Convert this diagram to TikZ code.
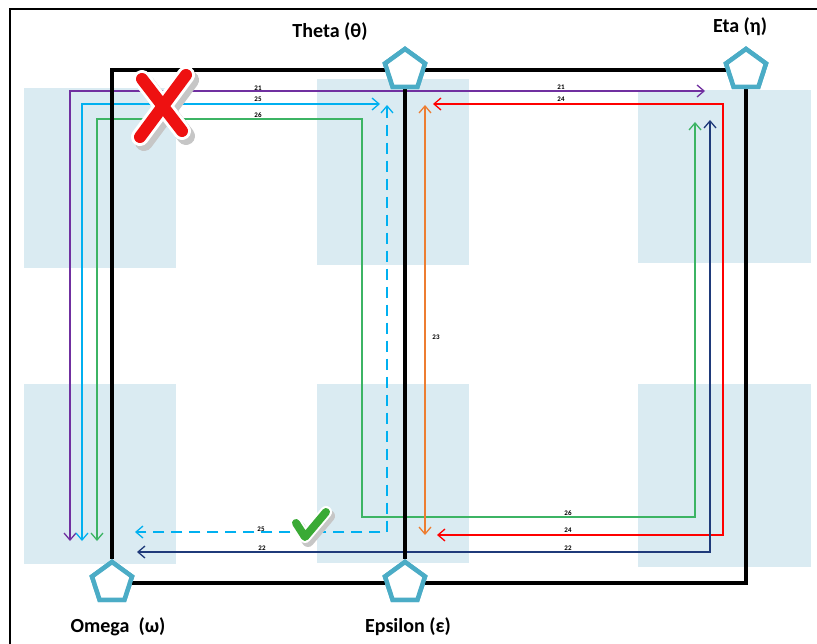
\documentclass[tikz,border=0pt]{standalone}
\usepackage{fontspec}
\setmainfont{Carlito}
\usetikzlibrary{shapes.geometric,arrows.meta,positioning}

\definecolor{zoneblue}{HTML}{DAEBF2}
\definecolor{siteblue}{HTML}{4BACC6}
\definecolor{route21}{HTML}{7030A0}
\definecolor{route25}{HTML}{00B0F0}
\definecolor{route26}{HTML}{3CB464}
\definecolor{route24}{HTML}{FF0000}
\definecolor{route23}{HTML}{ED7D31}
\definecolor{route22}{HTML}{1F3A7A}
\definecolor{markred}{HTML}{EE1111}
\definecolor{markgreen}{HTML}{3AAA35}

\begin{document}
\begin{tikzpicture}[x=1pt, y=-1pt,
    site/.style={regular polygon, regular polygon sides=5, draw=siteblue, fill=white, line width=4.5pt, minimum size=42pt, inner sep=0pt},
    link/.style={line width=3.5pt, black},
    route/.style={line width=1.3pt, {Straight Barb[length=7pt,width=12pt]}-{Straight Barb[length=7pt,width=12pt]}},
    num/.style={font=\fontsize{7}{7}\selectfont\bfseries, inner sep=0.5pt},
    sitelabel/.style={font=\fontsize{20}{23}\selectfont\bfseries},
    zone/.style={fill=zoneblue}
]
\useasboundingbox (0,0) rectangle (817,644);

% frame
\draw[line width=1.3pt] (10,644) -- (10,9) -- (817,9);

% shaded zones
\fill[zone] (24,88) rectangle (176,268);
\fill[zone] (317,79) rectangle (469,265);
\fill[zone] (638,90) rectangle (811,263);
\fill[zone] (24,384) rectangle (176,564);
\fill[zone] (317,384) rectangle (469,563);
\fill[zone] (638,384) rectangle (811,567);

% route end points
\coordinate (r21s) at (70,541);
\coordinate (r21e) at (705,91);
\coordinate (r25s) at (82,541);
\coordinate (r25e) at (380,104);
\coordinate (r25b) at (387,105);
\coordinate (r25c) at (135,532);
\coordinate (r26s) at (97,541);
\coordinate (r26e) at (695,122);
\coordinate (r24s) at (433,104);
\coordinate (r24e) at (437,535);
\coordinate (r23s) at (425,105);
\coordinate (r23e) at (425,535);
\coordinate (r22s) at (710,120);
\coordinate (r22e) at (137,552);

% routes
\draw[route, route21] (r21s) |- (r21e);
\draw[route, route25] (r25s) |- (r25e);
\draw[route, route25, dash pattern=on 11pt off 7pt] (r25b) |- (r25c);
\draw[route, route26] (r26s) |- (362,119) |- (695,517) -- (r26e);
\draw[route, route24] (r24s) -| (723,535) -- (r24e);
\draw[route, route23] (r23s) -- (r23e);
\draw[route, route22] (r22s) |- (r22e);

% route numbers
\node[num] (n21a) at (258,88) {21};
\node[num] (n21b) at (561,87) {21};
\node[num] (n25a) at (258,99) {25};
\node[num] (n25b) at (261,529) {25};
\node[num] (n26a) at (258,115) {26};
\node[num] (n26b) at (568,513) {26};
\node[num] (n24a) at (561,99) {24};
\node[num] (n24b) at (568,530) {24};
\node[num] (n22a) at (262,548) {22};
\node[num] (n22b) at (568,548) {22};
\node[num] (n23) at (436,337) {23};

% sites
\node[site] (theta) at (405,70) {};
\node[site] (eta) at (746,70) {};
\node[site] (omega) at (112,583) {};
\node[site] (epsilon) at (405,583) {};

% links
\draw[link] (omega) |- (theta);
\draw[link] (theta) -- (eta);
\draw[link] (theta) -- (epsilon);
\draw[link] (omega) -- (epsilon);
\draw[link] (eta) |- (epsilon);

\node[site] at (theta) {};
\node[site] at (eta) {};
\node[site] at (omega) {};
\node[site] at (epsilon) {};

% site labels
\node[sitelabel] (thetalbl) at (330,32) {Theta (θ)};
\node[sitelabel] (etalbl) at (740,27) {Eta (η)};
\node[sitelabel] (omegalbl) at (118,627) {Omega\ \ (ω)};
\node[sitelabel] (epsilonlbl) at (408,627) {Epsilon (ε)};

% cross mark
\draw[line width=18pt, gray!45, line cap=round] (146,84) -- (186,136) (190,80) -- (144,142);
\draw[line width=18pt, white, line cap=round] (142,79) -- (182,131) (186,75) -- (140,137);
\draw[line width=12pt, markred, line cap=round] (142,79) -- (182,131) (186,75) -- (140,137);

% check mark
\draw[line width=12pt, gray!45, line cap=round, line join=round] (299,527) -- (308,541) -- (329,516);
\draw[line width=12pt, white, line cap=round, line join=round] (296,523) -- (305,537) -- (326,512);
\draw[line width=8pt, markgreen, line cap=round, line join=round] (296,523) -- (305,537) -- (326,512);
\end{tikzpicture}
\end{document}
